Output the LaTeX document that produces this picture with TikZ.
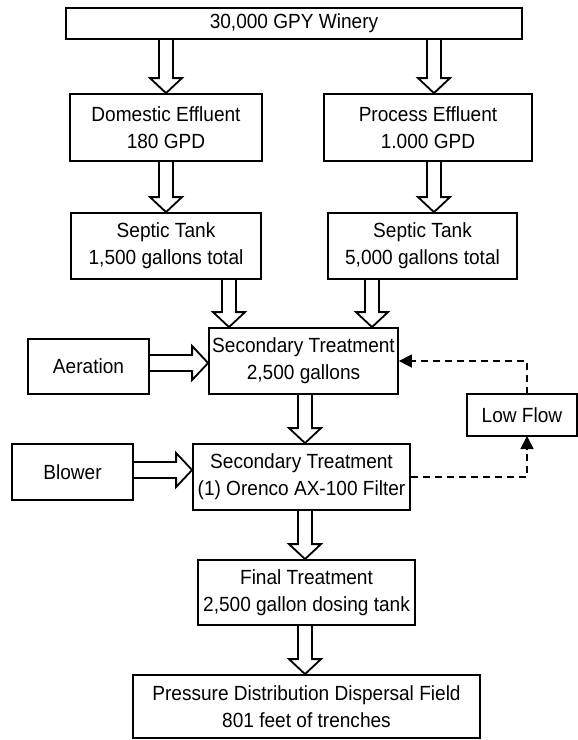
\documentclass[tikz,border=0pt]{standalone}
\usepackage{fontspec}
\setmainfont{Liberation Sans}[FakeStretch=0.93]
\usetikzlibrary{arrows.meta,calc}
\tikzset{
  box/.style={draw, line width=1.8pt, inner sep=0pt, align=center, font=\fontsize{20.5}{27}\selectfont},
  harrow/.style={draw, line width=1.8pt, line join=miter},
  dashline/.style={line width=1.6pt, dash pattern=on 7pt off 5pt},
  tip/.style={-{Triangle[length=13pt,width=13pt]}}
}
\newcommand\vharrow[3]{\draw[harrow] let \p1=(#2.south), \p2=(#3.north) in
  ({(#1-7)*1pt},\y1) -- ({(#1-7)*1pt},{\y2+15pt}) -- ({(#1-16)*1pt},{\y2+15pt}) --
  ({#1*1pt},\y2) -- ({(#1+16)*1pt},{\y2+15pt}) -- ({(#1+7)*1pt},{\y2+15pt}) -- ({(#1+7)*1pt},\y1);}
\newcommand\hharrow[3]{\draw[harrow] let \p1=(#2.east), \p2=(#3.west) in
  (\x1,{-(#1-8)*1pt}) -- ({\x2-16pt},{-(#1-8)*1pt}) -- ({\x2-16pt},{-(#1-17)*1pt}) --
  (\x2,{-(#1)*1pt}) -- ({\x2-16pt},{-(#1+17)*1pt}) -- ({\x2-16pt},{-(#1+8)*1pt}) -- (\x1,{-(#1+8)*1pt});}
\begin{document}
\begin{tikzpicture}[x=1pt,y=-1pt]
  \fill[white] (0,0) rectangle (578,740);
  \useasboundingbox (0,0) rectangle (578,740);

  \node[box, minimum width=456pt, minimum height=31pt] (top) at (294,23.5) {30,000 GPY Winery};
  \node[box, minimum width=192pt, minimum height=67pt] (dom) at (166,127.5) {Domestic Effluent\\180 GPD};
  \node[box, minimum width=208pt, minimum height=67pt] (proc) at (428,127.5) {Process Effluent\\1.000 GPD};
  \node[box, minimum width=190pt, minimum height=66pt] (sepL) at (166,246) {Septic Tank\\1,500 gallons total};
  \node[box, minimum width=189pt, minimum height=66pt] (sepR) at (422.5,246) {Septic Tank\\5,000 gallons total};
  \node[box, minimum width=189pt, minimum height=66pt] (sec1) at (303.5,361) {Secondary Treatment\\2,500 gallons};
  \node[box, minimum width=121pt, minimum height=55pt] (aer) at (88.5,366.5) {Aeration};
  \node[box, minimum width=121pt, minimum height=56pt] (blow) at (72.5,472) {Blower};
  \node[box, minimum width=217pt, minimum height=66pt] (sec2) at (301.5,477) {Secondary Treatment\\(1) Orenco AX-100 Filter};
  \node[box, minimum width=110pt, minimum height=42pt] (low) at (522,415) {Low Flow};
  \node[box, minimum width=217pt, minimum height=65pt] (final) at (306.5,592.5) {Final Treatment\\2,500 gallon dosing tank};
  \node[box, minimum width=347pt, minimum height=63pt] (press) at (306.5,706.5) {Pressure Distribution Dispersal Field\\801 feet of trenches};

  \vharrow{166}{top}{dom}
  \vharrow{434}{top}{proc}
  \vharrow{166}{dom}{sepL}
  \vharrow{434}{proc}{sepR}
  \vharrow{229}{sepL}{sec1}
  \vharrow{372}{sepR}{sec1}
  \vharrow{305}{sec1}{sec2}
  \vharrow{305}{sec2}{final}
  \vharrow{305}{final}{press}
  \hharrow{363}{aer}{sec1}
  \hharrow{470}{blow}{sec2}

  \coordinate (lfS) at (527,436);
  \coordinate (lfN) at (527,394);
  \draw[dashline,tip] (sec2.east) -| (lfS);
  \draw[dashline,tip] (lfN) |- (sec1.east);
\end{tikzpicture}
\end{document}
